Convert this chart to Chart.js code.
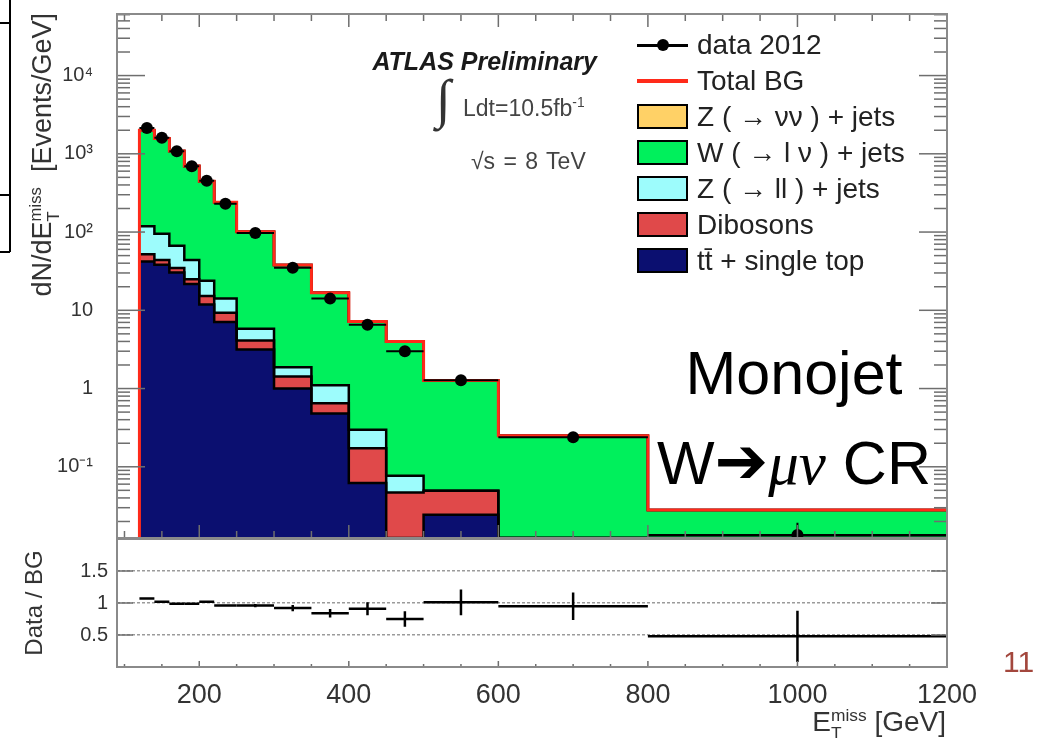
<!DOCTYPE html>
<html>
<head>
<meta charset="utf-8">
<title>Monojet W→μν control region</title>
<script src="https://cdn.jsdelivr.net/npm/chart.js@4.4.1/dist/chart.umd.min.js"></script>
<style>
  html, body { margin: 0; padding: 0; background: #fff; }
  body { position: relative; width: 1060px; height: 738px; overflow: hidden;
         font-family: "Liberation Sans", Arial, Helvetica, sans-serif; color: #222; }
  canvas { position: absolute; left: 0; }
  #mainPlot { top: 0; }
  #ratioPlot { top: 520px; }
  .txt { position: absolute; white-space: nowrap; line-height: 1; }
  .subsup { display: inline-block; font-size: 0.62em; line-height: 1.05; vertical-align: -0.45em; text-align: left; }
  .rot { position: absolute; white-space: nowrap; transform-origin: 0 0; transform: rotate(-90deg); }
  .line { position: absolute; background: #000; }
  .arrow { font-family: "DejaVu Sans", sans-serif; font-size: 64px; line-height: 0; vertical-align: 0.02em; }
  #legend { position: absolute; left: 637px; top: 0; }
  .lrow { position: absolute; left: 0; height: 0; }
  .lsym { position: absolute; left: 0; width: 51px; height: 25px; top: -12.5px; box-sizing: border-box; }
  .ltxt { position: absolute; left: 60px; top: -13.8px; font-size: 28px; line-height: 1; white-space: nowrap; color: #222; }
</style>
</head>
<body>
<canvas id="mainPlot" width="1060" height="545"></canvas>
<canvas id="ratioPlot" width="1060" height="218"></canvas>

<!-- left-hand frame lines of the slide -->
<div class="line" style="left:9px; top:0; width:1.5px; height:252px;"></div>
<div class="line" style="left:0; top:22px; width:10px; height:1.5px;"></div>
<div class="line" style="left:0; top:194px; width:10px; height:1.5px;"></div>
<div class="line" style="left:0; top:251px; width:10px; height:1.5px;"></div>

<div class="rot" style="left:26px; top:313px; width:300px; height:32px; line-height:32px; font-size:27px; text-align:right; color:#333;">dN/dE<span class="subsup">miss<br>T</span>&nbsp;&nbsp;[Events/GeV]</div>
<div class="rot" style="left:20px; top:703px; width:200px; height:28px; line-height:28px; font-size:24px; text-align:center; color:#333;">Data / BG</div>
<div class="txt" style="right:114px; top:706px; font-size:28px; color:#333;">E<span class="subsup">miss<br>T</span> [GeV]</div>

<div class="txt" style="right:463px; top:49px; font-size:25px; font-weight:bold; font-style:italic; color:#1a1a1a;">ATLAS Preliminary</div>
<div class="txt" style="left:436px; top:72px; font-size:54px; font-family:'Liberation Serif', serif; color:#333;">∫</div>
<div class="txt" style="left:463px; top:96px; font-size:23px; color:#444;">Ldt=10.5fb<sup style="font-size:0.6em;">-1</sup></div>
<div class="txt" style="left:471px; top:150px; font-size:23px; color:#444; word-spacing:2px;">√s = 8 TeV</div>

<div id="legend"></div>

<div class="txt" style="left:594px; width:400px; text-align:center; top:343px; font-size:61px; color:#000;">Monojet</div>
<div class="txt" style="left:594px; width:400px; text-align:center; top:433px; font-size:61px; color:#000;">W<span class="arrow">➔</span><span style="font-family:'Liberation Serif', serif; font-style:italic;">μν</span> CR</div>

<div class="txt" style="left:1003px; top:647px; font-size:30px; color:#a3473d;">11</div>

<script>
// E_T^miss bins [GeV]
const binEdges = [120, 140, 160, 180, 200, 220, 250, 300, 350, 400, 450, 500, 600, 800, 1200];

// data 2012, events per GeV, with statistical errors
const dataValues = [2140, 1600, 1080, 693, 454, 230, 97, 35, 14.1, 6.55, 3.0, 1.28, 0.238, 0.0134];
const dataErrors = [10, 9, 7.4, 5.9, 4.8, 2.8, 1.4, 0.84, 0.53, 0.36, 0.24, 0.11, 0.035, 0.0058];

// background predictions, events per GeV
const ttbarTop = [41.9, 38.3, 30.5, 21.7, 11.9, 7.1, 3.16, 1.0, 0.48, 0.062, 0, 0.0243, 0, 0];
const dibosons = [10.1, 5.7, 4.3, 3.3, 3.3, 2.2, 0.94, 0.43, 0.17, 0.11, 0.047, 0.025, 0, 0];
const zllJets = [67, 50.8, 32.2, 18.9, 8.6, 4.8, 1.7, 0.44, 0.45, 0.125, 0.03, 0, 0, 0];
const wlnuJets = [1881, 1475, 1023, 656, 421, 226, 95.2, 36.1, 15.7, 6.9, 3.92, 1.22, 0.25, 0.028];
const znunuJets = [0, 0, 0, 0, 0, 0, 0, 0, 0, 0, 0, 0, 0, 0];
const totalBG = [2000, 1570, 1090, 700, 445, 240, 101, 38, 16.8, 7.2, 4.0, 1.27, 0.25, 0.028];

// data / BG
const ratioValues = [1.07, 1.02, 0.99, 0.99, 1.02, 0.96, 0.96, 0.92, 0.84, 0.91, 0.75, 1.01, 0.95, 0.48];
const ratioErrors = [0.01, 0.01, 0.01, 0.015, 0.02, 0.02, 0.025, 0.05, 0.065, 0.1, 0.12, 0.2, 0.215, 0.4];

const xTickLabels = [200, 400, 600, 800, 1000, 1200];
const yDecades = [0.1, 1, 10, 100, 1000, 10000];
const ratioTicks = [0.5, 1, 1.5];

const seriesNames = ['data 2012', 'Total BG', 'Z ( → νν ) + jets', 'W ( → l ν ) + jets',
                     'Z ( → ll ) + jets', 'Dibosons', 'tt\u0304 + single top'];

const X_MIN = 90, X_MAX = 1200;
const Y_MIN = 0.0123, Y_MAX = 61200;

Chart.defaults.font.family = '"Liberation Sans", Arial, sans-serif';
Chart.defaults.color = '#333';
Chart.defaults.animation = false;

const binCenters = binEdges.slice(0, -1).map((lo, i) => (lo + binEdges[i + 1]) / 2);

// histogram outline: one point per lower edge, closed at the last upper edge
function stepPoints(values) {
  const pts = values.map((v, i) => ({ x: binEdges[i], y: Math.max(v, Y_MIN) }));
  pts.push({ x: binEdges[binEdges.length - 1], y: Math.max(values[values.length - 1], Y_MIN) });
  return pts;
}

// stacked backgrounds, bottom layer first
const layers = [ttbarTop, dibosons, zllJets, wlnuJets, znunuJets];
const layerColors = ['#0b0f70', '#e0494a', '#9dfcfc', '#00f05c', '#ffd166'];
let running = binCenters.map(() => 0);
const layerTops = layers.map(vals => (running = running.map((r, i) => r + vals[i])));

const stackSets = layerTops.map((tops, k) => ({
  data: stepPoints(tops),
  stepped: 'before',
  borderColor: '#000',
  borderWidth: 2.5,
  backgroundColor: layerColors[k],
  fill: k === 0 ? 'start' : '-1',
  pointRadius: 0,
  order: 6 - k
}));

const totalSet = {
  data: [{ x: binEdges[0], y: Y_MIN }].concat(stepPoints(totalBG)),
  stepped: 'before',
  borderColor: '#ff2a1a',
  borderWidth: 3,
  fill: false,
  pointRadius: 0,
  order: 1
};

const dataSet = {
  data: binCenters.map((x, i) => ({ x, y: dataValues[i] })),
  showLine: false,
  pointRadius: 6,
  pointBackgroundColor: '#000',
  pointBorderColor: '#000',
  pointBorderWidth: 0,
  clip: 0,
  order: 0
};

// horizontal bar over the bin plus vertical error, drawn under the markers
const errorBars = {
  id: 'errorBars',
  beforeDatasetDraw(chart, args, o) {
    if (args.index !== o.datasetIndex) return;
    const { ctx, chartArea: a, scales: { x, y } } = chart;
    ctx.save();
    ctx.beginPath();
    ctx.rect(a.left, a.top, a.width, a.height);
    ctx.clip();
    ctx.strokeStyle = '#000';
    ctx.lineWidth = o.lineWidth;
    o.values.forEach((v, i) => {
      const py = y.getPixelForValue(v);
      const px = x.getPixelForValue(binCenters[i]);
      ctx.beginPath();
      ctx.moveTo(x.getPixelForValue(binEdges[i]), py);
      ctx.lineTo(x.getPixelForValue(binEdges[i + 1]), py);
      ctx.moveTo(px, y.getPixelForValue(v + o.errors[i]));
      ctx.lineTo(px, y.getPixelForValue(v - o.errors[i]));
      ctx.stroke();
    });
    ctx.restore();
  }
};

function frameTicks(y, o) {
  if (!o.yLog) return o.yMajors.map(value => ({ value, major: true }));
  const out = [];
  for (let e = Math.floor(Math.log10(y.min)); e <= Math.ceil(Math.log10(y.max)); e++) {
    for (let k = 1; k <= 9; k++) {
      const v = k * Math.pow(10, e);
      if (v >= y.min && v <= y.max) out.push({ value: v, major: k === 1 });
    }
  }
  return out;
}

// box frame with inward ticks on every side
const rootFrame = {
  id: 'rootFrame',
  afterDatasetsDraw(chart, args, o) {
    const { ctx, chartArea: a, scales: { x, y } } = chart;
    const seg = (x1, y1, x2, y2) => { ctx.beginPath(); ctx.moveTo(x1, y1); ctx.lineTo(x2, y2); ctx.stroke(); };
    ctx.save();
    ctx.strokeStyle = o.tickColor;
    ctx.lineWidth = 1.5;
    for (let v = Math.ceil(x.min / 50) * 50; v <= x.max; v += 50) {
      const px = x.getPixelForValue(v);
      const len = v % 200 === 0 ? o.xLen[0] : o.xLen[1];
      if (o.xBottom) seg(px, a.bottom, px, a.bottom - len);
      if (o.xTop) seg(px, a.top, px, a.top + len);
    }
    frameTicks(y, o).forEach(t => {
      const len = t.major ? o.yLen[0] : o.yLen[1];
      if (!len) return;
      const py = y.getPixelForValue(t.value);
      seg(a.left, py, a.left + len, py);
      seg(a.right, py, a.right - len, py);
    });
    ctx.strokeStyle = o.frameColor;
    ctx.lineWidth = 2;
    ctx.strokeRect(a.left, a.top, a.width, a.height);
    ctx.restore();
  }
};

// fixed axis boxes so both panels share the same plot area
function fixWidth(s) {
  s.width = 117;
  s.paddingTop = 0;
  s.paddingBottom = 0;
}
function fixHeight(s) {
  s.height = 71;
  s.paddingLeft = 0;
  s.paddingRight = 0;
}

const supDigits = { '-': '\u207B', '0': '\u2070', '1': '\u00B9', '2': '\u00B2', '3': '\u00B3',
                    '4': '\u2074', '5': '\u2075', '6': '\u2076', '7': '\u2077', '8': '\u2078', '9': '\u2079' };
function powerLabel(v) {
  const e = Math.round(Math.log10(v));
  if (e === 0) return '1';
  if (e === 1) return '10';
  return '10' + String(e).split('').map(c => supDigits[c]).join('');
}

new Chart(document.getElementById('mainPlot'), {
  type: 'line',
  data: { datasets: [...stackSets, totalSet, dataSet] },
  options: {
    responsive: false,
    devicePixelRatio: 1,
    layout: { autoPadding: false, padding: { left: 0, right: 113, top: 14, bottom: 7 } },
    plugins: {
      legend: { display: false },
      tooltip: { enabled: false },
      filler: { drawTime: 'beforeDatasetsDraw' },
      errorBars: { datasetIndex: 6, values: dataValues, errors: dataErrors, lineWidth: 2 },
      rootFrame: { xTop: true, xBottom: true, xLen: [13, 7], yLog: true, yLen: [28, 13],
                   tickColor: '#6e6e6e', frameColor: '#8a8a8a' }
    },
    scales: {
      x: { type: 'linear', min: X_MIN, max: X_MAX, display: false },
      y: {
        type: 'logarithmic', min: Y_MIN, max: Y_MAX,
        afterFit: fixWidth,
        afterBuildTicks: s => { s.ticks = yDecades.map(value => ({ value })); },
        grid: { display: false },
        border: { display: false },
        ticks: { padding: 16, font: { size: 20 }, color: '#333', callback: v => powerLabel(v) }
      }
    }
  },
  plugins: [errorBars, rootFrame]
});

new Chart(document.getElementById('ratioPlot'), {
  type: 'line',
  data: {
    datasets: [{
      data: binCenters.map((x, i) => ({ x, y: ratioValues[i] })),
      showLine: false,
      pointRadius: 0
    }]
  },
  options: {
    responsive: false,
    devicePixelRatio: 1,
    layout: { autoPadding: false, padding: { left: 0, right: 113, top: 19, bottom: 0 } },
    plugins: {
      legend: { display: false },
      tooltip: { enabled: false },
      errorBars: { datasetIndex: 0, values: ratioValues, errors: ratioErrors, lineWidth: 2.5 },
      rootFrame: { xTop: false, xBottom: true, xLen: [6, 3], yLog: false, yMajors: ratioTicks, yLen: [16, 0],
                   tickColor: '#6e6e6e', frameColor: '#8a8a8a' }
    },
    scales: {
      x: {
        type: 'linear', min: X_MIN, max: X_MAX,
        afterFit: fixHeight,
        afterBuildTicks: s => { s.ticks = xTickLabels.map(value => ({ value })); },
        grid: { display: false },
        border: { display: false },
        ticks: { padding: 4, font: { size: 27 }, color: '#333', maxRotation: 0, autoSkip: false,
                 callback: v => String(v) }
      },
      y: {
        type: 'linear', min: 0, max: 2,
        afterFit: fixWidth,
        afterBuildTicks: s => { s.ticks = ratioTicks.map(value => ({ value })); },
        grid: { color: '#9b9b9b', lineWidth: 1.4, drawTicks: false },
        border: { display: false, dash: [3, 2] },
        ticks: { padding: 9, font: { size: 20 }, color: '#333', callback: v => String(v) }
      }
    }
  },
  plugins: [errorBars, rootFrame]
});

// legend: marker, line, then filled boxes for the stacked processes
const legendBox = document.getElementById('legend');
const legendFills = [null, null, layerColors[4], layerColors[3], layerColors[2], layerColors[1], layerColors[0]];
seriesNames.forEach((name, i) => {
  const row = document.createElement('div');
  row.className = 'lrow';
  row.style.top = (45 + i * 35.9) + 'px';
  const sym = document.createElement('div');
  sym.className = 'lsym';
  if (i === 0) {
    sym.innerHTML = '<div style="position:absolute;left:0;top:11px;width:51px;height:3px;background:#000"></div>' +
                    '<div style="position:absolute;left:19.5px;top:6.5px;width:12px;height:12px;border-radius:50%;background:#000"></div>';
  } else if (i === 1) {
    sym.innerHTML = '<div style="position:absolute;left:0;top:11px;width:51px;height:3.5px;background:#ff2a1a"></div>';
  } else {
    sym.style.background = legendFills[i];
    sym.style.border = '2.5px solid #000';
  }
  const txt = document.createElement('div');
  txt.className = 'ltxt';
  txt.textContent = name;
  row.appendChild(sym);
  row.appendChild(txt);
  legendBox.appendChild(row);
});
</script>
</body>
</html>
